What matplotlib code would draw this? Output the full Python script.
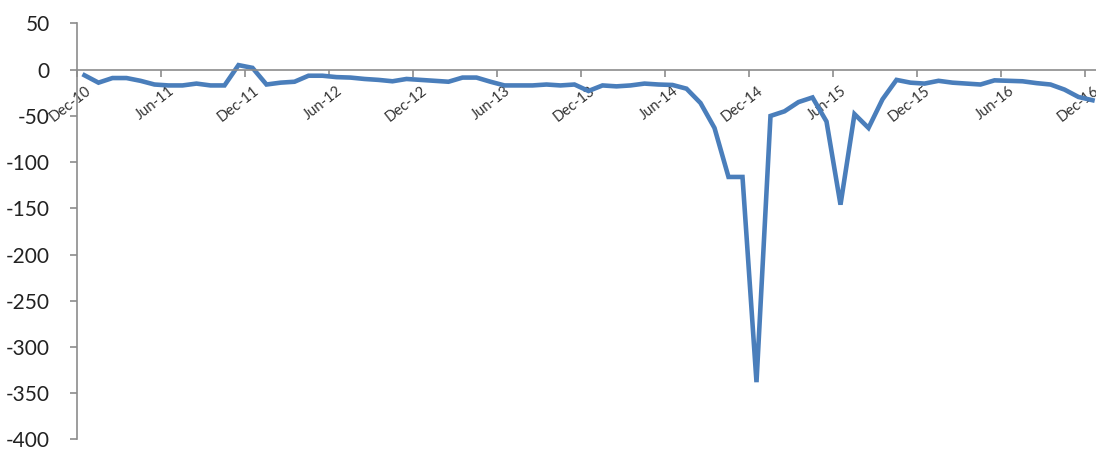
import matplotlib
matplotlib.use("Agg")
import matplotlib.pyplot as plt
import numpy as np

# monthly series, Dec-10 .. Dec-16
months = ["Dec-10", "Jan-11", "Feb-11", "Mar-11", "Apr-11", "May-11",
          "Jun-11", "Jul-11", "Aug-11", "Sep-11", "Oct-11", "Nov-11",
          "Dec-11", "Jan-12", "Feb-12", "Mar-12", "Apr-12", "May-12",
          "Jun-12", "Jul-12", "Aug-12", "Sep-12", "Oct-12", "Nov-12",
          "Dec-12", "Jan-13", "Feb-13", "Mar-13", "Apr-13", "May-13",
          "Jun-13", "Jul-13", "Aug-13", "Sep-13", "Oct-13", "Nov-13",
          "Dec-13", "Jan-14", "Feb-14", "Mar-14", "Apr-14", "May-14",
          "Jun-14", "Jul-14", "Aug-14", "Sep-14", "Oct-14", "Nov-14",
          "Dec-14", "Jan-15", "Feb-15", "Mar-15", "Apr-15", "May-15",
          "Jun-15", "Jul-15", "Aug-15", "Sep-15", "Oct-15", "Nov-15",
          "Dec-15", "Jan-16", "Feb-16", "Mar-16", "Apr-16", "May-16",
          "Jun-16", "Jul-16", "Aug-16", "Sep-16", "Oct-16", "Nov-16",
          "Dec-16"]

values = [-6, -14, -9, -9, -12, -16,
          -17, -17, -15, -17, -17, 5,
          2, -16, -14, -13, -6.5, -6.5,
          -8, -8.5, -10, -11, -12.5, -10,
          -11, -12, -13, -8.5, -8.5, -13,
          -17, -17, -17, -16, -17, -16,
          -23, -17, -18, -17, -15, -16,
          -16.5, -20.5, -36, -63, -116, -116,
          -338, -50, -45, -35, -30, -56,
          -146, -48, -63, -32, -11, -14,
          -15, -12, -14, -15, -16, -11.5,
          -12, -12.5, -14.5, -16, -21.5, -29.5,
          -33]

yticks = list(range(-400, 51, 50))
label_every = 6

LINE = "#4a7ebb"
AXIS = "#8c8c8c"
TEXT = "#333333"

plt.rcParams["font.family"] = ["Lato", "DejaVu Sans"]

fig = plt.figure(figsize=(10.96, 4.51), dpi=100)
ax = fig.add_axes([0.0707, 0.0255, 0.9293, 0.9224])

x = np.arange(len(values)) + 0.5
ax.plot(x, values, color=LINE, lw=3.3, solid_joinstyle="miter")

ax.set_xlim(0, 72.75)
ax.set_ylim(-400, 50)

for side in ("top", "right"):
    ax.spines[side].set_visible(False)
ax.spines["bottom"].set_position(("data", 0))
for side in ("left", "bottom"):
    ax.spines[side].set_color(AXIS)
    ax.spines[side].set_linewidth(1.2)

ax.set_yticks(yticks)
ax.set_yticklabels([str(v) for v in yticks])
ax.tick_params(axis="y", direction="out", length=5, width=1.2, color=AXIS,
               pad=15, labelsize=15, labelcolor="#222222")

# tick marks on month boundaries, labels centred on the category
ax.set_xticks(np.arange(0, len(values), label_every))
ax.set_xticklabels([])
ax.tick_params(axis="x", which="major", direction="out", length=5, width=1.2,
               color=AXIS)
ax.set_xticks(x[::label_every], minor=True)
ax.set_xticklabels(months[::label_every], minor=True)
ax.tick_params(axis="x", which="minor", length=0, pad=10, labelsize=10.5,
               labelcolor=TEXT)
for lbl in ax.get_xticklabels(minor=True):
    lbl.set_rotation(38)
    lbl.set_rotation_mode("anchor")
    lbl.set_ha("right")
    lbl.set_va("top")

fig.savefig("out.png", dpi=100)
